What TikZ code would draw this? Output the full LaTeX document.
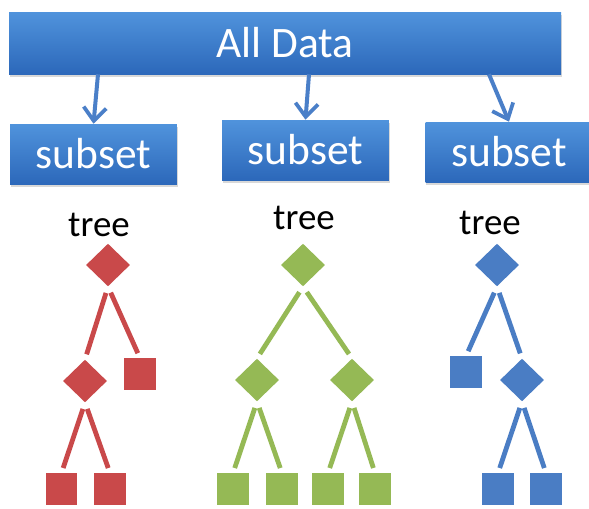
\documentclass[tikz,border=0pt]{standalone}
\usepackage{fontspec}
\setmainfont{Carlito}
\usetikzlibrary{arrows.meta,shapes.geometric,shadows}
\definecolor{boxtop}{HTML}{5093DC}
\definecolor{boxbottom}{HTML}{2C68BA}
\definecolor{linkblue}{HTML}{4A7FC8}
\definecolor{treered}{HTML}{C9494A}
\definecolor{treegreen}{HTML}{95B955}
\definecolor{treeblue}{HTML}{4A7DC4}
\tikzset{%
    databox/.style={rectangle,top color=boxtop,bottom color=boxbottom,
     text=white,inner sep=0pt,font=\fontsize{32.6}{36}\selectfont,
     drop shadow={opacity=0.3,shadow xshift=0.5pt,shadow yshift=-2.5pt}},
    splitnode/.style={diamond,fill=#1,inner sep=0pt,minimum width=33pt,minimum height=32pt},
    leafnode/.style={rectangle,fill=#1,inner sep=0pt,minimum size=23.5pt},
    branchline/.style={draw=#1,line width=3.6pt,shorten <=5pt,shorten >=4pt},
    datalink/.style={draw=linkblue,line width=3pt,
     -{Straight Barb[length=10pt,width=17pt,line width=2.8pt]}},
    treelabel/.style={font=\fontsize{27.7}{30}\selectfont},
}

\begin{document}
\begin{tikzpicture}[x=0.75pt,y=-0.75pt]
 \clip (0,0) rectangle (589,508);
 \fill[white] (0,0) rectangle (589,508);
 \node[databox,minimum width=414pt,minimum height=46.5pt] (all) at (285,43) {All Data};
 \foreach \X/\x/\y in {1/93.5/154,2/305.5/150,3/509/152}
 {\node[databox,minimum width=125pt,minimum height=45pt] (sub\X) at (\x,\y) {subset};}
 \foreach \X/\d in {1/-187,2/24,3/204}
 {\draw[datalink] ([xshift=\d*0.75pt]all.south) -- (sub\X.north);}
 \node[treelabel] (tree1) at (99,225) {tree};
 \node[treelabel] (tree2) at (304,218) {tree};
 \node[treelabel] (tree3) at (490,223) {tree};
 % red tree
 \node[splitnode=treered] (r) at (108,265) {};
 \node[splitnode=treered] (rl) at (85,381) {};
 \node[leafnode=treered] (rr) at (140,374) {};
 \node[leafnode=treered] (rll) at (61.5,489) {};
 \node[leafnode=treered] (rlr) at (110,489) {};
 \foreach \a/\b in {r/rl,r/rr,rl/rll,rl/rlr}
 {\draw[branchline=treered] (\a.south) -- (\b.north);}
 % green tree
 \node[splitnode=treegreen] (g) at (303,265) {};
 \node[splitnode=treegreen] (gl) at (257,380) {};
 \node[splitnode=treegreen] (gr) at (352,380) {};
 \foreach \n/\x in {gll/233,glr/282,grl/328,grr/375}
 {\node[leafnode=treegreen] (\n) at (\x,489) {};}
 \foreach \a/\b in {g/gl,g/gr,gl/gll,gl/glr,gr/grl,gr/grr}
 {\draw[branchline=treegreen] (\a.south) -- (\b.north);}
 % blue tree
 \node[splitnode=treeblue] (b) at (497,265) {};
 \node[leafnode=treeblue] (bl) at (466,372) {};
 \node[splitnode=treeblue] (br) at (522,380) {};
 \node[leafnode=treeblue] (brl) at (498,489) {};
 \node[leafnode=treeblue] (brr) at (546,489) {};
 \foreach \a/\b in {b/bl,b/br,br/brl,br/brr}
 {\draw[branchline=treeblue] (\a.south) -- (\b.north);}
\end{tikzpicture}
\end{document}
